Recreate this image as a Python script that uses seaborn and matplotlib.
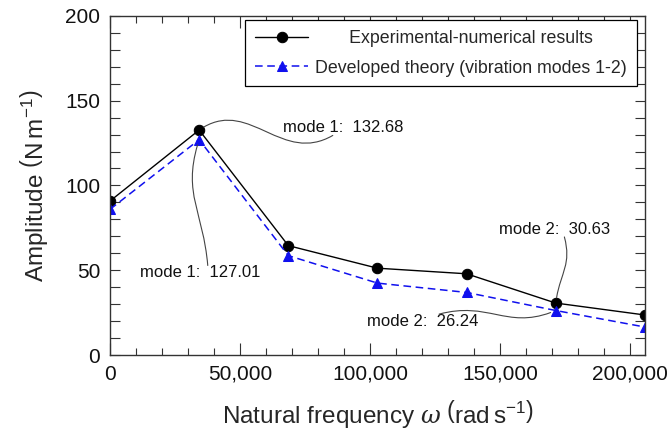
import numpy as np
import pandas as pd
import matplotlib
matplotlib.use("Agg")
import matplotlib.pyplot as plt
import seaborn as sns
from matplotlib.patches import ConnectionStyle
from matplotlib.path import Path
from matplotlib.ticker import MultipleLocator, StrMethodFormatter

# Natural frequencies (rad/s) and amplitudes (N/m)
frequency = [0, 34300, 68600, 102900, 137200, 171500, 205800]
experimental = [90.8, 132.68, 64.5, 51.2, 47.9, 30.63, 23.6]
theory = [85.9, 127.01, 58.6, 42.4, 36.9, 26.24, 16.5]

# first entry is padded so it sits centred over the longer second entry
label_exp = "       Experimental-numerical results"
label_theory = "Developed theory (vibration modes 1-2)"


class SCurve(ConnectionStyle._Base):
    """Cubic Bezier connector leaving each end at a chosen angle."""

    def __init__(self, angleA=0.0, angleB=0.0, armA=0.4, armB=0.4):
        self.angleA = angleA
        self.angleB = angleB
        self.armA = armA
        self.armB = armB

    def connect(self, posA, posB):
        (xa, ya), (xb, yb) = posA, posB
        d = np.hypot(xb - xa, yb - ya)
        ta, tb = np.deg2rad(self.angleA), np.deg2rad(self.angleB)
        c1 = (xa + self.armA * d * np.cos(ta), ya + self.armA * d * np.sin(ta))
        c2 = (xb + self.armB * d * np.cos(tb), yb + self.armB * d * np.sin(tb))
        return Path([posA, c1, c2, posB],
                    [Path.MOVETO, Path.CURVE4, Path.CURVE4, Path.CURVE4])


sns.set_style("ticks")
plt.rcParams["font.family"] = ["Liberation Sans", "DejaVu Sans"]
plt.rcParams["mathtext.fontset"] = "custom"
plt.rcParams["mathtext.rm"] = "Liberation Sans"
plt.rcParams["mathtext.sf"] = "Liberation Sans"
plt.rcParams["mathtext.it"] = "DejaVu Serif:italic"

df = pd.DataFrame({"frequency": frequency,
                   "experimental": experimental,
                   "theory": theory})

fig = plt.figure(figsize=(6.72, 4.41), dpi=100)
ax = fig.add_axes([0.1637, 0.195, 0.796, 0.769])

sns.lineplot(data=df, x="frequency", y="experimental", ax=ax,
             color="black", lw=1.0, marker="o", markersize=7.5,
             markeredgecolor="black", label=label_exp)
sns.lineplot(data=df, x="frequency", y="theory", ax=ax,
             color="#1010ee", lw=1.1, linestyle=(0, (5, 3)), marker="^",
             markersize=6.5, markeredgecolor="#1010ee", label=label_theory)

ax.set_xlim(0, frequency[-1])
ax.set_ylim(0, 200)
ax.xaxis.set_major_locator(MultipleLocator(50000))
ax.xaxis.set_minor_locator(MultipleLocator(10000))
ax.yaxis.set_major_locator(MultipleLocator(50))
ax.yaxis.set_minor_locator(MultipleLocator(10))
ax.xaxis.set_major_formatter(StrMethodFormatter("{x:,.0f}"))

spine_color = "#333333"
for s in ax.spines.values():
    s.set_visible(True)
    s.set_color(spine_color)
    s.set_linewidth(1.0)
ax.tick_params(which="both", direction="in", top=True, right=True,
               color=spine_color, width=0.8)
ax.tick_params(which="major", labelsize=15, pad=7, labelcolor="#111111")
ax.tick_params(axis="x", which="major", length=8.5)
ax.tick_params(axis="x", which="minor", length=5)
ax.tick_params(axis="y", which="both", length=7)

ax.set_xlabel(r"Natural frequency $\omega$ $\left(\mathrm{rad\,s^{-1}}\right)$",
              fontsize=17.5, labelpad=10)
ax.set_ylabel(r"Amplitude $\left(\mathrm{N\,m^{-1}}\right)$",
              fontsize=17.5, labelpad=11)

leg = ax.legend(loc="upper right", bbox_to_anchor=(0.985, 0.987),
                fontsize=12.8, frameon=True,
                fancybox=False, framealpha=1, edgecolor="black",
                handlelength=3.0, handletextpad=0.4, borderpad=0.55,
                labelspacing=0.7, borderaxespad=0.0)
leg.get_frame().set_linewidth(0.9)

# Curved callouts for the two vibration modes
conn_color = "#444444"
callouts = [
    # (x, y, text, offset in points, relpos, angle at text, angle at point)
    (frequency[1], experimental[1], "mode 1:  132.68", (104, 1.5), (0.41, 0.0),
     -150, 35),
    (frequency[1], theory[1], "mode 1:  127.01", (1, -96), (0.56, 1.0),
     95, -108),
    (frequency[5], experimental[5], "mode 2:  30.63", (-1, 53), (0.59, 0.0),
     -75, 83),
    (frequency[5], theory[5], "mode 2:  26.24", (-96, -8), (0.65, 1.0),
     15, -157),
]
for x, y, text, offset, relpos, angA, angB in callouts:
    ax.annotate(text, xy=(x, y), xytext=offset, textcoords="offset points",
                ha="center", va="center", fontsize=12, color="#111111",
                arrowprops=dict(arrowstyle="-", color=conn_color, lw=0.8,
                                relpos=relpos, shrinkA=0, shrinkB=4,
                                patchA=None,
                                connectionstyle=SCurve(angA, angB, 0.45, 0.45)))

fig.savefig("out.png", dpi=100)
